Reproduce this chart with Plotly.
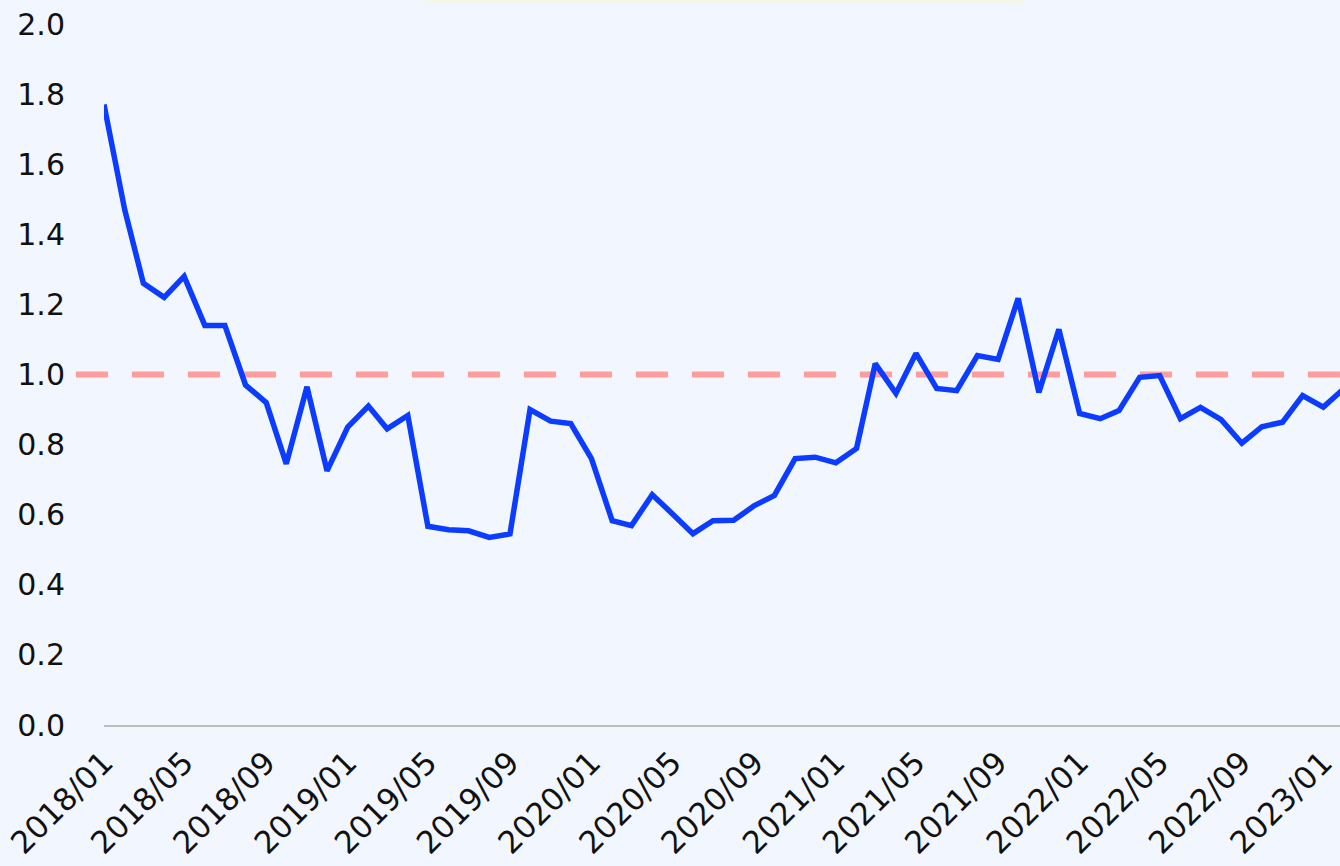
import pandas as pd
import plotly.graph_objects as go

# monthly ratio series, 2018/01 .. 2023/02 (last point runs off the right edge)
months = pd.date_range("2018-01-01", periods=62, freq="MS")
ratio = [1.77, 1.47, 1.26, 1.22, 1.28, 1.14, 1.14, 0.97, 0.92, 0.745, 0.965, 0.725,
         0.85, 0.91, 0.845, 0.883, 0.567, 0.557, 0.554, 0.535, 0.545, 0.90, 0.867, 0.86,
         0.76, 0.583, 0.569, 0.657, 0.603, 0.546, 0.583, 0.584, 0.626, 0.655, 0.76, 0.764,
         0.748, 0.789, 1.031, 0.946, 1.06, 0.96, 0.954, 1.054, 1.043, 1.217, 0.949, 1.129,
         0.889, 0.874, 0.897, 0.992, 0.997, 0.874, 0.906, 0.871, 0.804, 0.851, 0.864, 0.94,
         0.907, 0.96]
reference_level = 1.0

BG = "#f2f6ff"
TXT = "#111111"

fig = go.Figure()

fig.add_trace(go.Scatter(
    x=months, y=ratio, mode="lines",
    line=dict(color="#0b3cff", width=5.5),
    showlegend=False, hoverinfo="x+y",
))

# dashed reference line, starts a bit left of the plot area
fig.add_shape(
    type="line", xref="paper", yref="y",
    x0=-0.0227, x1=1, y0=reference_level, y1=reference_level,
    line=dict(color="#ff9c9e", width=6, dash="32px,24px"),
    layer="below",
)

# faint box peeking in at the very top of the page
fig.add_shape(
    type="rect", xref="paper", yref="paper",
    x0=0.26, x1=0.743, y0=1.029, y1=1.04,
    fillcolor="rgba(248,248,225,0.8)", line=dict(width=0),
)

fig.update_layout(
    width=1340, height=866,
    margin=dict(l=104, r=0, t=24, b=141),
    paper_bgcolor=BG, plot_bgcolor=BG,
    font=dict(family="DejaVu Sans", size=30, color=TXT),
    showlegend=False,
)

fig.update_xaxes(
    range=["2018-01-01", "2023-01-26"],
    tick0="2018-01-01", dtick="M4", tickformat="%Y/%m",
    tickangle=-45, tickfont=dict(size=31),
    showgrid=False, zeroline=False,
    showline=True, linecolor="#bdbdbd", linewidth=2,
    ticks="", ticklabelstandoff=5, ticklabeloverflow="allow",
    automargin=False,
)

fig.update_yaxes(
    range=[0, 2.0], dtick=0.2, tickformat=".1f",
    showgrid=False, zeroline=False, showline=False,
    ticks="", ticklabelstandoff=38, automargin=False,
)

fig.write_html("out.html", config={"displayModeBar": False},
               post_script="document.body.style.margin='0';")
